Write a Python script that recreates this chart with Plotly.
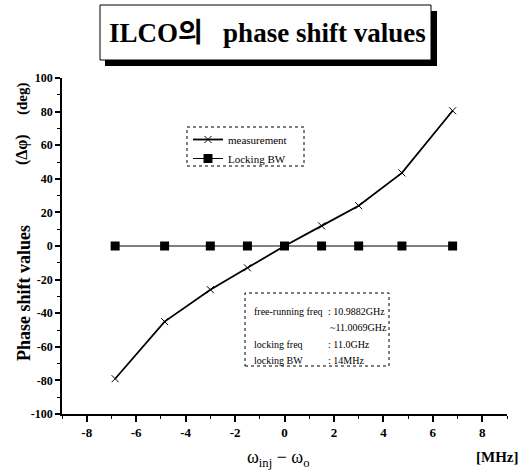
import plotly.graph_objects as go

# ---- data ----
detuning = [-6.85, -4.85, -3.0, -1.5, 0.0, 1.5, 3.0, 4.75, 6.8]
measurement = [-79, -45, -26, -13, 0, 12, 24, 43.5, 80.5]
locking_bw = [0, 0, 0, 0, 0, 0, 0, 0, 0]

x_tickvals = [-8, -6, -4, -2, 0, 2, 4, 6, 8]
x_ticktext = ["-8", "-6", "-4", "-2", "0", "2", "4", "6", "8"]
y_tickvals = [-100, -80, -60, -40, -20, 0, 20, 40, 60, 80, 100]
y_ticktext = ["-100", "-80", "-60", "-40", "-20", "0", "20", "40", "60", "80", "100"]

info_labels = ["free-running freq", "", "locking freq", "locking BW"]
info_values = [": 10.9882GHz", "~11.0069GHz", ": 11.0GHz", ": 14MHz"]

SERIF = "Liberation Serif, Noto Sans CJK KR, serif"

W, H = 530, 475
ML, MR, MT, MB = 62, 23, 78, 61
PW, PH = W - ML - MR, H - MT - MB


def px(x):
    return (x - ML) / PW


def py(y):
    return (H - MB - y) / PH


fig = go.Figure()
fig.add_trace(go.Scatter(
    x=detuning, y=measurement, name="measurement", mode="lines+markers",
    line=dict(color="black", width=1.8),
    marker=dict(symbol="x-thin", size=7, line=dict(color="black", width=1)),
))
fig.add_trace(go.Scatter(
    x=detuning, y=locking_bw, name="Locking BW", mode="lines+markers",
    line=dict(color="black", width=1),
    marker=dict(symbol="square", size=9, color="black"),
))

fig.update_layout(
    width=W, height=H,
    margin=dict(l=ML, r=MR, t=MT, b=MB),
    paper_bgcolor="white", plot_bgcolor="white",
    showlegend=True,
    legend=dict(x=px(188), y=py(125), xanchor="left", yanchor="top",
                bgcolor="rgba(0,0,0,0)", borderwidth=0,
                font=dict(family=SERIF, size=11, color="black"),
                tracegroupgap=0, itemwidth=30),
    font=dict(family=SERIF, color="black"),
)

fig.update_xaxes(
    range=[-9, 9], showgrid=False, zeroline=False,
    showline=True, linecolor="black", linewidth=1.5,
    ticks="outside", ticklen=6, tickwidth=1.5, tickcolor="black",
    tickvals=x_tickvals, ticktext=["<b>%s</b>" % t for t in x_ticktext],
    tickfont=dict(family=SERIF, size=13, color="black"),
    minor=dict(dtick=1, ticks="outside", ticklen=3, tickcolor="black", tickwidth=1),
)
fig.update_yaxes(
    range=[-100, 100], showgrid=False, zeroline=False,
    showline=True, linecolor="black", linewidth=1.5,
    ticks="outside", ticklen=5, tickwidth=1.5, tickcolor="black",
    tickvals=y_tickvals, ticktext=["<b>%s</b>" % t for t in y_ticktext],
    tickfont=dict(family=SERIF, size=12, color="black"),
    minor=dict(dtick=10, ticks="outside", ticklen=3, tickcolor="black", tickwidth=1),
)

shapes = []
# title shadow and box
shapes.append(dict(type="rect", xref="paper", yref="paper",
                   x0=px(105), x1=px(437), y0=py(66), y1=py(11),
                   fillcolor="black", line=dict(width=0)))
shapes.append(dict(type="rect", xref="paper", yref="paper",
                   x0=px(100), x1=px(431), y0=py(60), y1=py(5),
                   fillcolor="white", line=dict(color="black", width=1)))
# legend dotted box
shapes.append(dict(type="rect", xref="paper", yref="paper",
                   x0=px(187), x1=px(304), y0=py(166), y1=py(127),
                   fillcolor="rgba(0,0,0,0)", line=dict(color="black", width=1, dash="dot")))
# info dotted box
shapes.append(dict(type="rect", xref="paper", yref="paper",
                   x0=px(245), x1=px(389), y0=py(366), y1=py(293),
                   fillcolor="white", layer="below", line=dict(color="black", width=1, dash="dot")))
fig.update_layout(shapes=shapes)

ann = []
ann.append(dict(text="<b>ILCO의   phase shift values</b>", xref="paper", yref="paper",
                x=px(267), y=py(33), xanchor="center", yanchor="middle", showarrow=False,
                font=dict(family=SERIF, size=27, color="black")))
# y-axis title pieces
ann.append(dict(text="<b>Phase shift values</b>", xref="paper", yref="paper",
                x=px(24), y=py(293), xanchor="center", yanchor="middle", showarrow=False,
                textangle=-90, font=dict(family=SERIF, size=18, color="black")))
ann.append(dict(text="<b>(Δφ)</b>", xref="paper", yref="paper",
                x=px(22), y=py(150), xanchor="center", yanchor="middle", showarrow=False,
                textangle=-90, font=dict(family=SERIF, size=16, color="black")))
ann.append(dict(text="<b>(deg)</b>", xref="paper", yref="paper",
                x=px(22), y=py(99), xanchor="center", yanchor="middle", showarrow=False,
                textangle=-90, font=dict(family=SERIF, size=15, color="black")))
# x-axis title pieces
ann.append(dict(text="ω<sub>inj</sub> − ω<sub>o</sub>", xref="paper", yref="paper",
                x=px(245), y=py(458), xanchor="left", yanchor="middle", showarrow=False,
                font=dict(family=SERIF, size=18, color="black")))
ann.append(dict(text="<b>[MHz]</b>", xref="paper", yref="paper",
                x=px(520), y=py(457), xanchor="right", yanchor="middle", showarrow=False,
                font=dict(family=SERIF, size=15, color="black")))
# info box text
rows_y = [311, 327, 344, 360]
for lbl, val, yy in zip(info_labels, info_values, rows_y):
    if lbl:
        ann.append(dict(text=lbl, xref="paper", yref="paper", x=px(252), y=py(yy),
                        xanchor="left", yanchor="middle", showarrow=False,
                        font=dict(family=SERIF, size=10, color="black")))
    ann.append(dict(text=val, xref="paper", yref="paper",
                    x=px(326 if val.startswith(":") else 328), y=py(yy),
                    xanchor="left", yanchor="middle", showarrow=False,
                    font=dict(family=SERIF, size=10, color="black")))
fig.update_layout(annotations=ann)

fig.write_html("out.html")
